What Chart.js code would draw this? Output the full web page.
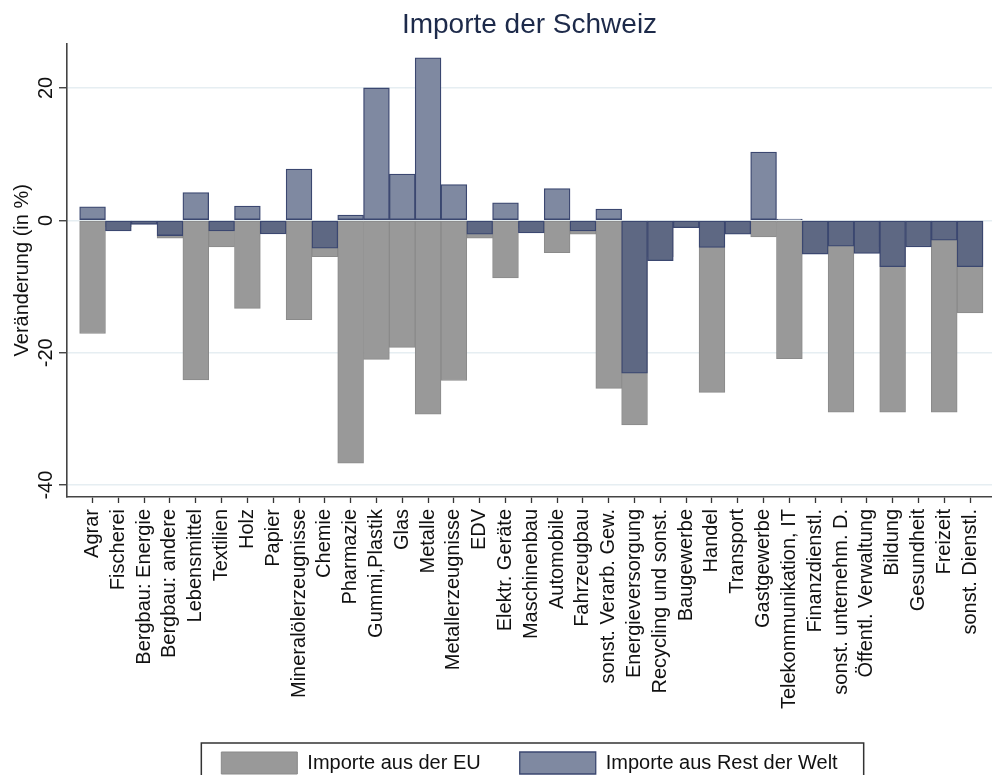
<!DOCTYPE html>
<html lang="de">
<head>
<meta charset="utf-8">
<title>Importe der Schweiz</title>
<script src="https://cdn.jsdelivr.net/npm/chart.js@4.4.0/dist/chart.umd.min.js"></script>
<style>
  html, body { margin: 0; padding: 0; background: #fff; }
  #wrap { width: 992px; height: 775px; position: relative; background: #fff; }
</style>
</head>
<body>
<div id="wrap"><canvas id="importChart"></canvas></div>
<script>
// Branchen (x-Achse)
const branchen = [
    'Agrar', 'Fischerei', 'Bergbau: Energie', 'Bergbau: andere', 'Lebensmittel',
    'Textilien', 'Holz', 'Papier', 'Mineralölerzeugnisse', 'Chemie',
    'Pharmazie', 'Gummi,Plastik', 'Glas', 'Metalle', 'Metallerzeugnisse',
    'EDV', 'Elektr. Geräte', 'Maschinenbau', 'Automobile', 'Fahrzeugbau',
    'sonst. Verarb. Gew.', 'Energieversorgung', 'Recycling und sonst.', 'Baugewerbe', 'Handel',
    'Transport', 'Gastgewerbe', 'Telekommunikation, IT', 'Finanzdienstl.', 'sonst. unternehm. D.',
    'Öffentl. Verwaltung', 'Bildung', 'Gesundheit', 'Freizeit', 'sonst. Dienstl.'
];

// Veränderung in %
const importeEU = [
    -17.1, -1.0, -0.4, -2.7, -24.1,
    -4.0, -13.3, -1.5, -15.0, -5.5,
    -36.7, -21.0, -19.2, -29.3, -24.2,
    -2.7, -8.7, -1.2, -4.9, -2.1,
    -25.4, -30.9, -5.5, -0.8, -26.0,
    -1.5, -2.5, -20.9, -4.0, -29.0,
    -4.0, -29.0, -3.0, -29.0, -14.0
];
const importeRestWelt = [
    2.05, -1.6, -0.6, -2.3, 4.2,
    -1.6, 2.15, -2.05, 7.75, -4.2,
    0.8, 20.0, 7.0, 24.55, 5.4,
    -2.1, 2.65, -1.9, 4.8, -1.6,
    1.7, -23.1, -6.1, -1.1, -4.1,
    -2.1, 10.3, 0.2, -5.1, -3.9,
    -5.0, -7.0, -4.0, -3.0, -7.0
];

const yTicks = [-40, -20, 0, 20];

const blueLight = '#7f89a1';
const blueDark = '#5e6883';

Chart.defaults.font.family = '"Liberation Sans", Arial, Helvetica, sans-serif';
Chart.defaults.color = '#111';

// Rahmen um die Legende (Stata-Stil)
const legendFrame = {
    id: 'legendFrame',
    afterDraw(chart) {
        const boxes = chart.legend && chart.legend.legendHitBoxes;
        if (!boxes || !boxes.length) return;
        const first = boxes[0];
        const last = boxes[boxes.length - 1];
        const left = first.left - 20;
        const right = last.left + last.width + 26;
        const ctx = chart.ctx;
        ctx.save();
        ctx.strokeStyle = '#333';
        ctx.lineWidth = 1.5;
        ctx.strokeRect(left, first.top - 9, right - left, 80);
        ctx.restore();
    }
};

document.addEventListener("DOMContentLoaded", function () {
    const ctx = document.getElementById('importChart').getContext('2d');
    new Chart(ctx, {
        type: 'bar',
        data: {
            datasets: [{
                label: 'Importe aus der EU',
                data: importeEU.map((v, i) => ({ x: i, y: v })),
                backgroundColor: '#999999',
                borderColor: '#8a8a8a',
                borderWidth: 1,
                order: 2
            }, {
                label: 'Importe aus Rest der Welt',
                data: importeRestWelt.map((v, i) => ({ x: i, y: v })),
                backgroundColor: c => (c.raw && c.raw.y < 0) ? blueDark : blueLight,
                borderColor: '#3b4770',
                borderWidth: 1.3,
                order: 1
            }]
        },
        options: {
            responsive: true,
            maintainAspectRatio: false,
            animation: false,
            layout: { padding: { left: 0, right: 0, top: 0, bottom: -9 } },
            datasets: {
                bar: { grouped: false, categoryPercentage: 1, barPercentage: 1, borderSkipped: false }
            },
            scales: {
                x: {
                    type: 'linear',
                    min: -0.99,
                    max: 34.85,
                    offset: false,
                    afterBuildTicks: s => { s.ticks = branchen.map((_, i) => ({ value: i })); },
                    afterFit: s => { s.height = 216; s.paddingLeft = 0; s.paddingRight = 0; },
                    grid: { offset: false, drawOnChartArea: false, tickLength: 6, tickColor: '#333', tickWidth: 1.3 },
                    border: { color: '#444', width: 1.6 },
                    ticks: {
                        autoSkip: false,
                        minRotation: 90,
                        maxRotation: 90,
                        padding: 6,
                        font: { size: 20 },
                        callback: v => branchen[v]
                    }
                },
                y: {
                    min: -41.8,
                    max: 26.7,
                    afterBuildTicks: s => { s.ticks = yTicks.map(v => ({ value: v })); },
                    afterFit: s => { s.width = 67; s.paddingTop = 0; s.paddingBottom = 0; },
                    grid: { color: '#e6eef2', lineWidth: 1.5, tickColor: '#333', tickLength: 8, tickWidth: 1.3 },
                    border: { color: '#444', width: 1.6 },
                    ticks: {
                        minRotation: 90,
                        maxRotation: 90,
                        crossAlign: 'center',
                        padding: -2,
                        font: { size: 20 }
                    },
                    title: {
                        display: true,
                        text: 'Veränderung (in %)',
                        font: { size: 20 },
                        padding: { top: 10, bottom: 0 }
                    }
                }
            },
            plugins: {
                title: {
                    display: true,
                    text: 'Importe der Schweiz',
                    fullSize: false,
                    color: '#1d2a4a',
                    font: { size: 28, weight: 'normal' },
                    padding: { top: 8, bottom: 2 }
                },
                legend: {
                    position: 'bottom',
                    fullSize: false,
                    labels: {
                        boxWidth: 76,
                        boxHeight: 22,
                        padding: 39,
                        font: { size: 20 },
                        sort: (a, b) => a.datasetIndex - b.datasetIndex
                    }
                },
                tooltip: { enabled: false }
            }
        },
        plugins: [legendFrame]
    });
});
</script>
</body>
</html>
